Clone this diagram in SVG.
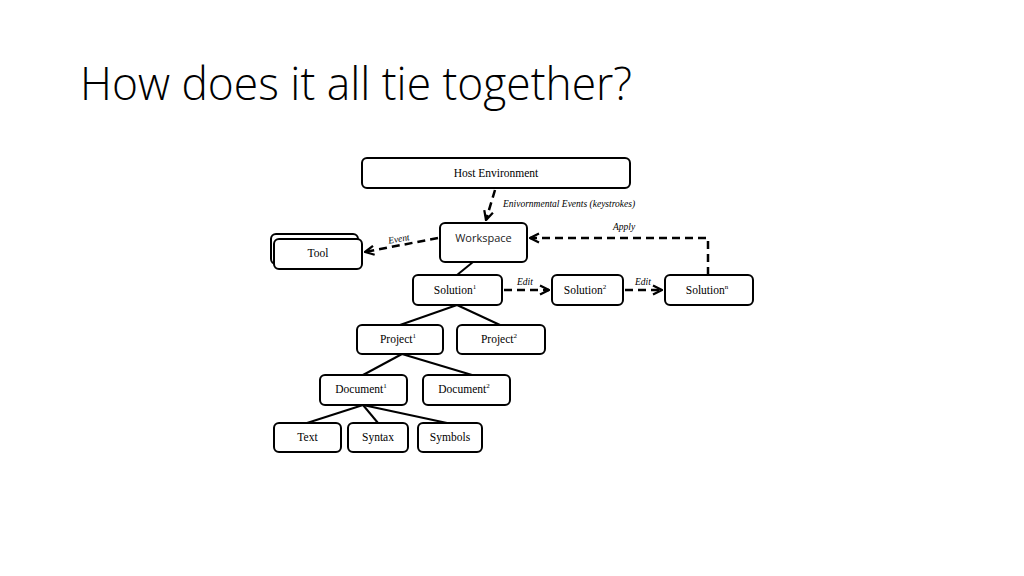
<svg xmlns="http://www.w3.org/2000/svg" width="1024" height="576" viewBox="0 0 1024 576">
<defs>
<marker id="arr" viewBox="0 0 10 10" refX="9" refY="5" markerWidth="4.5" markerHeight="4.5" orient="auto" markerUnits="strokeWidth">
<path d="M1,1 L9,5 L1,9" fill="none" stroke="#000" stroke-width="2"/>
</marker>
</defs>
<style>
.box{fill:#fff;stroke:#000;stroke-width:2}
.lbl{font-family:"Liberation Serif","Times New Roman",serif;font-size:11.5px;fill:#000;text-anchor:middle}
.sans{font-family:"Open Sans","DejaVu Sans",sans-serif;font-size:11px;fill:#222;text-anchor:middle}
.it{font-family:"Liberation Serif","Times New Roman",serif;font-style:italic;font-size:9.5px;fill:#000}
.sup{font-size:7px}
.sol{stroke:#000;stroke-width:2;fill:none}
.dash{stroke:#000;stroke-width:2.5;fill:none;stroke-dasharray:8,5}
</style>
<rect width="1024" height="576" fill="#fff"/>
<text x="80" y="100" font-family="'Open Sans','Segoe UI','DejaVu Sans',sans-serif" font-weight="300" font-size="46" fill="#000" textLength="552" lengthAdjust="spacingAndGlyphs">How does it all tie together?</text>

<g id="connectors">
<line class="sol" x1="473" y1="262" x2="457" y2="275"/>
<line class="sol" x1="457" y1="305" x2="400" y2="325"/>
<line class="sol" x1="457" y1="305" x2="500" y2="325"/>
<line class="sol" x1="402" y1="354" x2="363" y2="375"/>
<line class="sol" x1="402" y1="354" x2="472" y2="375"/>
<line class="sol" x1="363" y1="405" x2="307" y2="423"/>
<line class="sol" x1="363" y1="405" x2="378" y2="423"/>
<line class="sol" x1="363" y1="405" x2="447" y2="423"/>
<line class="dash" x1="495" y1="190" x2="486" y2="220" marker-end="url(#arr)"/>
<line class="dash" x1="438" y1="238" x2="365" y2="252" marker-end="url(#arr)"/>
<polyline class="dash" points="708,275 708,238 530,238" marker-end="url(#arr)"/>
<line class="dash" x1="504" y1="290" x2="549" y2="290" marker-end="url(#arr)"/>
<line class="dash" x1="625" y1="290" x2="662" y2="290" marker-end="url(#arr)"/>
<text class="it" x="503" y="207">Enivornmental Events (keystrokes)</text>
<text class="it" x="388" y="242" transform="rotate(-10 398 239)">Event</text>
<text class="it" x="613" y="230">Apply</text>
<text class="it" x="517" y="285">Edit</text>
<text class="it" x="635" y="285">Edit</text>
</g>

<g id="host"><rect class="box" x="362" y="158" width="268" height="30" rx="5"/><text class="lbl" x="496" y="177">Host Environment</text></g>
<g id="workspace"><rect class="box" x="440" y="223" width="87" height="39" rx="5"/><text class="sans" x="483.5" y="242">Workspace</text></g>
<g id="tool"><rect class="box" x="271" y="234" width="87" height="30" rx="5"/><rect class="box" x="274" y="239" width="88" height="30" rx="5"/><text class="lbl" x="318" y="257">Tool</text></g>
<g id="solution1"><rect class="box" x="413" y="275" width="89" height="30" rx="5"/><text class="lbl" x="455" y="294">Solution<tspan class="sup" dy="-5">1</tspan></text></g>
<g id="solution2"><rect class="box" x="552" y="275" width="71" height="30" rx="5"/><text class="lbl" x="585" y="294">Solution<tspan class="sup" dy="-5">2</tspan></text></g>
<g id="solutionn"><rect class="box" x="665" y="275" width="88" height="30" rx="5"/><text class="lbl" x="707" y="294">Solution<tspan class="sup" dy="-5">n</tspan></text></g>
<g id="project1"><rect class="box" x="357" y="325" width="86" height="29" rx="5"/><text class="lbl" x="398" y="343">Project<tspan class="sup" dy="-5">1</tspan></text></g>
<g id="project2"><rect class="box" x="457" y="325" width="88" height="29" rx="5"/><text class="lbl" x="499" y="343">Project<tspan class="sup" dy="-5">2</tspan></text></g>
<g id="document1"><rect class="box" x="320" y="375" width="87" height="30" rx="5"/><text class="lbl" x="361" y="393">Document<tspan class="sup" dy="-5">1</tspan></text></g>
<g id="document2"><rect class="box" x="423" y="375" width="87" height="30" rx="5"/><text class="lbl" x="464" y="393">Document<tspan class="sup" dy="-5">2</tspan></text></g>
<g id="text"><rect class="box" x="274" y="423" width="67" height="29" rx="5"/><text class="lbl" x="307.5" y="441">Text</text></g>
<g id="syntax"><rect class="box" x="348" y="423" width="60" height="29" rx="5"/><text class="lbl" x="378" y="441">Syntax</text></g>
<g id="symbols"><rect class="box" x="418" y="423" width="64" height="29" rx="5"/><text class="lbl" x="450" y="441">Symbols</text></g>
</svg>
